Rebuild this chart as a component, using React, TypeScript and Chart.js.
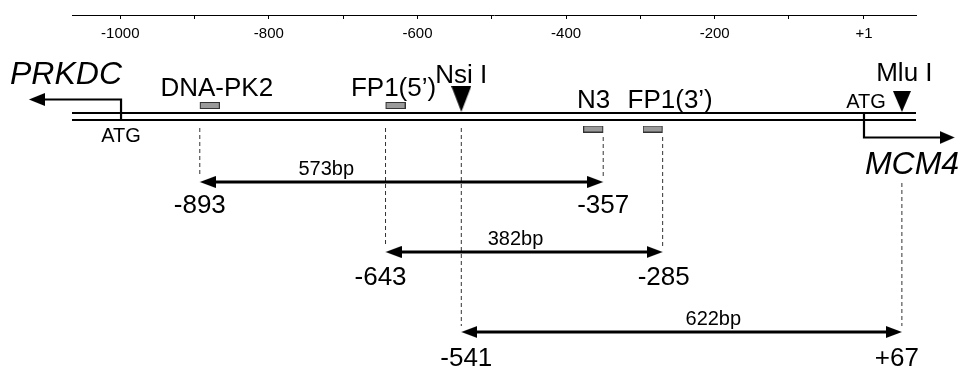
import React, { useEffect, useRef } from 'react';
import { Chart, registerables } from 'chart.js';

Chart.register(...registerables);

// ---------------- data (bp positions relative to MCM4 +1) ----------------
const AXIS_MIN = -1065;
const AXIS_MAX = 71;
const tickValues = [-1000, -900, -800, -700, -600, -500, -400, -300, -200, -100, 1];
const tickLabels = ['-1000', '', '-800', '', '-600', '', '-400', '', '-200', '', '+1'];

const geneNames = ['PRKDC', 'MCM4'];
const geneAtg = [-999, 1];
const geneArrowTip = [-1123, 123];

const siteNames = ['Nsi I', 'Mlu I'];
const sitePositions = [-541, 52];

const primerNames = ['DNA-PK2', 'FP1(5\u2019)', 'N3', 'FP1(3\u2019)'];
const primerPositions = [-893, -643, -350, -270];
const primerStrands = ['+', '+', '-', '-'];

const ampliconSizes = ['573bp', '382bp', '622bp'];
const ampliconStarts = [-893, -643, -541];
const ampliconEnds = [-350, -270, 52];
const ampliconStartLabels = ['-893', '-643', '-541'];
const ampliconEndLabels = ['-357', '-285', '+67'];

// ---------------- layout (pixels) ----------------
const W = 962;
const H = 369;
const PLOT_LEFT = 72;
const PLOT_RIGHT = 916;
const AXIS_Y = 15;
const FONT = '"Liberation Sans", Arial, Helvetica, sans-serif';
const BP_PER_PX = (AXIS_MAX - AXIS_MIN) / (PLOT_RIGHT - PLOT_LEFT);
const TICK_FONT_SIZE = 15;
const TICK_PADDING = 9.5; // mirrored top-axis labels: larger padding pushes them below the line

const STRAND_ROWS = [113, 120];
const geneLayout = [
  { stemFrom: 120, stemTo: 99.5, dir: 'left', headLen: 16, headHalf: 6.5, nameDx: -55, nameBase: 84, atgDx: 0, atgBase: 142 },
  { stemFrom: 113, stemTo: 137.5, dir: 'right', headLen: 15, headHalf: 6.5, nameDx: 48, nameBase: 174, atgDx: 2, atgBase: 107.5 },
];
const siteLayout = [
  { tipY: 112, w: 20, h: 26, dx: 0, base: 83 },
  { tipY: 112, w: 18, h: 21, dx: 2.5, base: 81 },
];
const BOX_W = 20;
const BOX_H = 7;
const primerLayout = [
  { boxY: 105.5, dx: 17, base: 96 },
  { boxY: 105.5, dx: 8, base: 96 },
  { boxY: 129, dx: -9.5, base: 107.5 },
  { boxY: 129, dx: 7.5, base: 107.5 },
];
const ampLayout = [
  { y: 182, guideTopStart: 128, guideTopEnd: 137, sizeDx: 126.5, startDx: 0, endDx: 0, numBase: 213 },
  { y: 252, guideTopStart: 128, guideTopEnd: 137, sizeDx: 130, startDx: -5, endDx: 1, numBase: 285 },
  { y: 332, guideTopStart: 128, guideTopEnd: 183, sizeDx: 252, startDx: 5, endDx: -5, numBase: 366 },
];
const ARROW_LEN = 16;
const ARROW_HALF = 6;

function makeHead(dir: string, len: number, half: number) {
  const c = document.createElement('canvas');
  const ctx = c.getContext('2d')!;
  if (dir === 'down') {
    c.width = Math.round(half * 2);
    c.height = Math.round(len * 2);
  } else {
    c.width = Math.round(len * 2);
    c.height = Math.round(half * 2);
  }
  ctx.beginPath();
  if (dir === 'down') {
    ctx.moveTo(0, 0);
    ctx.lineTo(half * 2, 0);
    ctx.lineTo(half, len);
  } else if (dir === 'right') {
    ctx.moveTo(0, 0);
    ctx.lineTo(len, half);
    ctx.lineTo(0, half * 2);
  } else {
    ctx.moveTo(len * 2, 0);
    ctx.lineTo(len, half);
    ctx.lineTo(len * 2, half * 2);
  }
  ctx.closePath();
  ctx.fillStyle = '#000';
  ctx.fill();
  return c;
}

function makeBox(strand: string) {
  const c = document.createElement('canvas');
  c.width = BOX_W * 2;
  c.height = BOX_H;
  const ctx = c.getContext('2d')!;
  const x0 = strand === '+' ? BOX_W : 0;
  ctx.fillStyle = '#9a9a9a';
  ctx.fillRect(x0, 0, BOX_W, BOX_H);
  ctx.strokeStyle = '#333';
  ctx.lineWidth = 1;
  ctx.strokeRect(x0 + 0.5, 0.5, BOX_W - 1, BOX_H - 1);
  return c;
}

type Txt = { text: string; x: number; dx: number; base: number; size: number; italic?: boolean };

function buildTexts(): Txt[] {
  const t: Txt[] = [];
  geneNames.forEach((n, i) => {
    const g = geneLayout[i];
    t.push({ text: n, x: geneAtg[i], dx: g.nameDx, base: g.nameBase, size: 32, italic: true });
    t.push({ text: 'ATG', x: geneAtg[i], dx: g.atgDx, base: g.atgBase, size: 20 });
  });
  siteNames.forEach((n, i) => {
    const s = siteLayout[i];
    t.push({ text: n, x: sitePositions[i], dx: s.dx, base: s.base, size: 26 });
  });
  primerNames.forEach((n, i) => {
    const p = primerLayout[i];
    t.push({ text: n, x: primerPositions[i], dx: p.dx, base: p.base, size: 26 });
  });
  ampliconSizes.forEach((n, i) => {
    const a = ampLayout[i];
    t.push({ text: n, x: ampliconStarts[i], dx: a.sizeDx, base: a.y - 7, size: 20 });
    t.push({ text: ampliconStartLabels[i], x: ampliconStarts[i], dx: a.startDx, base: a.numBase, size: 26 });
    t.push({ text: ampliconEndLabels[i], x: ampliconEnds[i], dx: a.endDx, base: a.numBase, size: 26 });
  });
  return t;
}

export default function App() {
  const ref = useRef<HTMLCanvasElement>(null);

  useEffect(() => {
    if (!ref.current) return;
    const texts = buildTexts();

    const line = (pts: { x: number; y: number }[], extra: any = {}) => ({
      type: 'line',
      data: pts,
      borderColor: '#000',
      borderWidth: 2,
      pointRadius: 0,
      fill: false,
      clip: false,
      tension: 0,
      borderCapStyle: 'butt',
      borderJoinStyle: 'miter',
      ...extra,
    });
    const marks = (pts: { x: number; y: number }[], styles: any[]) => ({
      type: 'line',
      data: pts,
      showLine: false,
      pointRadius: 80,
      pointBorderWidth: 0,
      pointStyle: styles,
      borderColor: 'transparent',
      backgroundColor: 'transparent',
      clip: false,
    });

    const datasets: any[] = [];
    const inset = 6 * BP_PER_PX;

    // amplicon double arrows
    ampliconSizes.forEach((_, i) => {
      const a = ampLayout[i];
      datasets.push(marks(
        [{ x: ampliconStarts[i], y: a.y }, { x: ampliconEnds[i], y: a.y }],
        [makeHead('left', ARROW_LEN, ARROW_HALF), makeHead('right', ARROW_LEN, ARROW_HALF)],
      ));
      datasets.push(line(
        [{ x: ampliconStarts[i] + inset, y: a.y }, { x: ampliconEnds[i] - inset, y: a.y }],
        { borderWidth: 3 },
      ));
    });

    // dashed guides
    ampliconSizes.forEach((_, i) => {
      const a = ampLayout[i];
      const dash = { borderWidth: 1, borderColor: '#333', borderDash: [4, 3] };
      datasets.push(line([{ x: ampliconStarts[i], y: a.guideTopStart }, { x: ampliconStarts[i], y: a.y - ARROW_HALF }], dash));
      datasets.push(line([{ x: ampliconEnds[i], y: a.guideTopEnd }, { x: ampliconEnds[i], y: a.y - ARROW_HALF }], dash));
    });

    // restriction sites
    datasets.push(marks(
      sitePositions.map((x, i) => ({ x, y: siteLayout[i].tipY })),
      siteLayout.map((s) => makeHead('down', s.h, s.w / 2)),
    ));

    // primers
    datasets.push(marks(
      primerPositions.map((x, i) => ({ x, y: primerLayout[i].boxY })),
      primerStrands.map((s) => makeBox(s)),
    ));

    // genes (bent arrows)
    geneNames.forEach((_, i) => {
      const g = geneLayout[i];
      const tip = geneArrowTip[i];
      const end = g.dir === 'left' ? tip + inset : tip - inset;
      datasets.push(marks([{ x: tip, y: g.stemTo }], [makeHead(g.dir, g.headLen, g.headHalf)]));
      datasets.push(line(
        [{ x: geneAtg[i], y: g.stemFrom }, { x: geneAtg[i], y: g.stemTo }, { x: end, y: g.stemTo }],
        { borderWidth: 2.2 },
      ));
    });

    // DNA strands
    STRAND_ROWS.forEach((y) => {
      datasets.push(line([{ x: AXIS_MIN, y }, { x: AXIS_MAX, y }], { borderWidth: 2 }));
    });

    const textPlugin = {
      id: 'diagramText',
      afterDatasetsDraw(chart: any) {
        const ctx = chart.ctx;
        const xs = chart.scales.x;
        const ys = chart.scales.y;
        ctx.save();
        ctx.fillStyle = '#000';
        ctx.textAlign = 'center';
        ctx.textBaseline = 'alphabetic';
        texts.forEach((t) => {
          ctx.font = `${t.italic ? 'italic ' : ''}${t.size}px ${FONT}`;
          ctx.fillText(t.text, xs.getPixelForValue(t.x) + t.dx, ys.getPixelForValue(t.base));
        });
        ctx.restore();
      },
    };

    const chart = new Chart(ref.current, {
      type: 'line',
      data: { datasets },
      options: {
        animation: false,
        responsive: false,
        events: [],
        layout: { autoPadding: false, padding: { left: PLOT_LEFT, right: W - PLOT_RIGHT, top: 0, bottom: 0 } },
        plugins: { legend: { display: false }, tooltip: { enabled: false } },
        scales: {
          x: {
            type: 'linear',
            position: 'top',
            min: AXIS_MIN,
            max: AXIS_MAX,
            afterBuildTicks: (scale: any) => {
              scale.ticks = tickValues.map((value) => ({ value }));
            },
            afterFit: (scale: any) => {
              scale.height = AXIS_Y;
            },
            border: { display: true, color: '#000', width: 1 },
            grid: { drawOnChartArea: false, drawTicks: true, tickLength: -4, color: '#000', lineWidth: 1 },
            ticks: {
              autoSkip: false,
              maxRotation: 0,
              mirror: true,
              color: '#000',
              padding: TICK_PADDING,
              font: { family: FONT, size: TICK_FONT_SIZE, lineHeight: 1.2 },
              callback: (_v: any, index: number) => tickLabels[index],
            },
          },
          y: {
            type: 'linear',
            display: false,
            min: AXIS_Y,
            max: H,
            reverse: true,
          },
        },
      },
      plugins: [textPlugin],
    } as any);

    return () => chart.destroy();
  }, []);

  return (
    <div style={{ position: 'fixed', left: 0, top: 0, width: W, height: H, background: '#fff' }}>
      <canvas ref={ref} width={W} height={H} style={{ width: W, height: H, display: 'block' }} />
    </div>
  );
}
